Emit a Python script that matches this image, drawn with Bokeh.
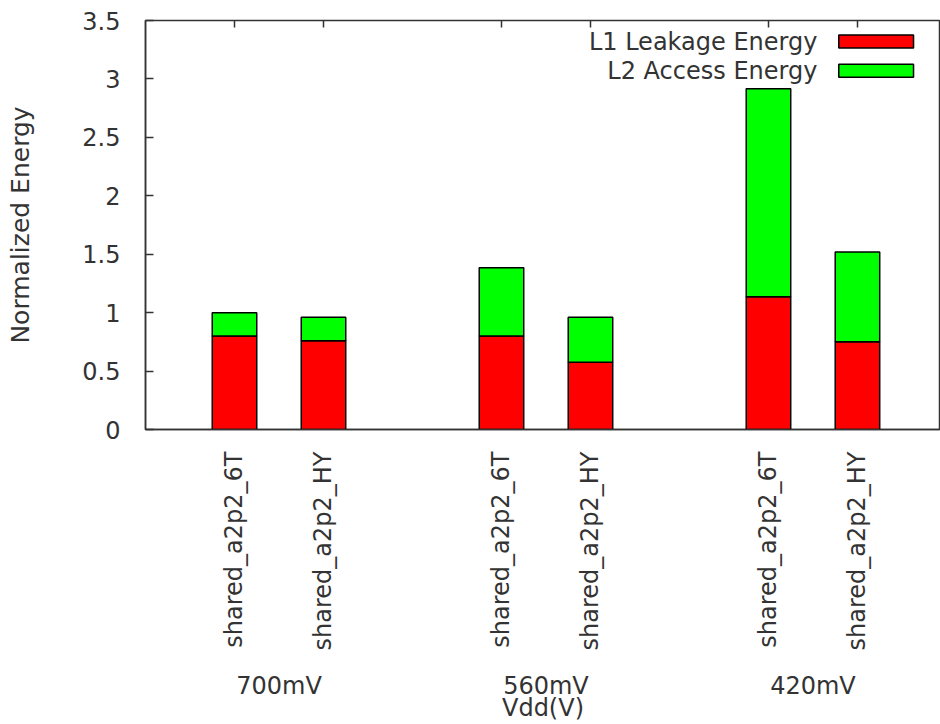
import math
from bokeh.plotting import figure
from bokeh.models import Range1d, FixedTicker, LinearAxis, Label, BoxAnnotation, ColumnDataSource
from bokeh.embed import file_html
from bokeh.resources import INLINE

# ---- data ----
groups = ["700mV", "560mV", "420mV"]
configs = ["shared_a2p2_6T", "shared_a2p2_HY"]
l1_leakage = [0.80, 0.76, 0.80, 0.575, 1.135, 0.75]
l2_access = [0.20, 0.20, 0.585, 0.385, 1.78, 0.77]
series_names = ["L1 Leakage Energy", "L2 Access Energy"]
series_colors = ["#ff0000", "#00ff00"]
y_ticks = [0, 0.5, 1, 1.5, 2, 2.5, 3, 3.5]
x_title = "Vdd(V)"
y_title = "Normalized Energy"

# ---- layout helpers (positions derived from category index) ----
slots = len(configs) + 1
xs = [g * slots + c + 1 for g in range(len(groups)) for c in range(len(configs))]
bar_labels = [c for g in groups for c in configs]
group_centers = [g * slots + (len(configs) + 1) / 2 for g in range(len(groups))]
tops1 = list(l1_leakage)
tops2 = [a + b for a, b in zip(l1_leakage, l2_access)]

FONT = "DejaVu Sans"
FS = "24px"
TXT = "#333333"
AX = "#333333"

src = ColumnDataSource(dict(x=xs, l1=tops1, total=tops2, zero=[0] * len(xs)))

p = figure(width=940, height=724, output_backend="svg", toolbar_location=None,
           x_range=Range1d(0, 8.933), y_range=Range1d(0, 3.5),
           min_border_left=145, min_border_right=0, min_border_top=20, min_border_bottom=295)
p.grid.visible = False
p.background_fill_color = "white"
p.border_fill_color = "white"
p.outline_line_color = AX
p.outline_line_width = 1.5

p.vbar(x="x", bottom="zero", top="l1", width=0.5, source=src,
       fill_color=series_colors[0], line_color="black", line_width=1.5)
p.vbar(x="x", bottom="l1", top="total", width=0.5, source=src,
       fill_color=series_colors[1], line_color="black", line_width=1.5)

# y axis
ya = p.yaxis[0]
ya.ticker = FixedTicker(ticks=y_ticks)
ya.major_label_overrides = {t: f"{t:g}" for t in y_ticks}
ya.major_tick_in = 8
ya.major_tick_out = 0
ya.minor_tick_line_color = None
ya.major_label_standoff = 25
ya.major_label_text_font = FONT
ya.major_label_text_font_size = FS
ya.major_label_text_color = TXT
ya.axis_line_color = AX
ya.axis_line_width = 1.5
ya.major_tick_line_color = AX
ya.major_tick_line_width = 1.5
ya.axis_label = y_title
ya.axis_label_text_font = FONT
ya.axis_label_text_font_size = "25px"
ya.axis_label_text_font_style = "normal"
ya.axis_label_text_color = TXT
ya.axis_label_standoff = 44

# x axis (bar labels)
xa = p.xaxis[0]
xa.ticker = FixedTicker(ticks=xs)
xa.major_label_overrides = {x: lab for x, lab in zip(xs, bar_labels)}
xa.major_label_orientation = math.pi / 2
xa.major_tick_in = 0
xa.major_tick_out = 0
xa.minor_tick_line_color = None
xa.major_label_standoff = 22
xa.major_label_text_font = FONT
xa.major_label_text_font_size = FS
xa.major_label_text_color = TXT
xa.axis_line_color = AX
xa.axis_line_width = 1.5

# group axis
ga = LinearAxis(ticker=FixedTicker(ticks=group_centers))
ga.major_label_overrides = {x: lab for x, lab in zip(group_centers, groups)}
ga.axis_line_color = None
ga.major_tick_line_color = None
ga.minor_tick_line_color = None
ga.major_tick_in = 0
ga.major_tick_out = 0
ga.major_label_standoff = 18
ga.major_label_text_font = FONT
ga.major_label_text_font_size = FS
ga.major_label_text_color = TXT
ga.axis_label = x_title
ga.axis_label_text_font = FONT
ga.axis_label_text_font_size = FS
ga.axis_label_text_font_style = "normal"
ga.axis_label_text_color = TXT
ga.axis_label_standoff = -9
p.add_layout(ga, "below")

# mirrored ticks on top
ta = LinearAxis(ticker=FixedTicker(ticks=xs))
ta.major_label_overrides = {x: "" for x in xs}
ta.major_label_standoff = 0
ta.major_tick_in = 7
ta.major_tick_out = 0
ta.minor_tick_line_color = None
ta.axis_line_color = AX
ta.major_tick_line_color = AX
ta.major_tick_line_width = 1.5
p.add_layout(ta, "above")

# legend (text left, swatch right, gnuplot style)
leg_text_x = 7.55
leg_box_l, leg_box_r = 7.79, 8.63
leg_rows_y = [3.32, 3.07]
leg_half_h = 0.055
for name, col, yy in zip(series_names, series_colors, leg_rows_y):
    p.add_layout(Label(x=leg_text_x, y=yy, text=name, text_align="right", text_baseline="middle",
                       text_font=FONT, text_font_size=FS, text_color=TXT))
    p.add_layout(BoxAnnotation(left=leg_box_l, right=leg_box_r, bottom=yy - leg_half_h, top=yy + leg_half_h,
                               fill_color=col, fill_alpha=1.0, line_color="black", line_width=1.5,
                               line_alpha=1.0))

open("out.html", "w").write(file_html(p, INLINE))
